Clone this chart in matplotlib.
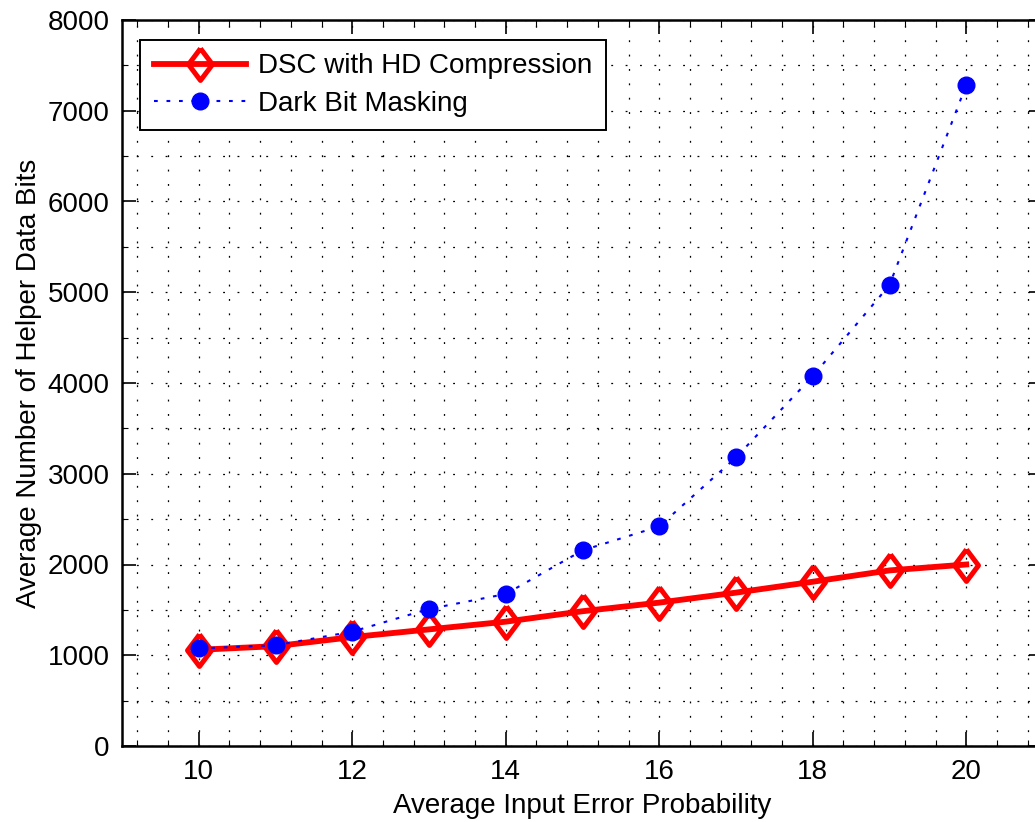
import numpy as np
import matplotlib
matplotlib.use("Agg")
import matplotlib.pyplot as plt
from matplotlib.ticker import MultipleLocator

plt.rcParams['font.family'] = ['Liberation Sans', 'DejaVu Sans']

# data
error_prob = [10, 11, 12, 13, 14, 15, 16, 17, 18, 19, 20]
dsc_hd = [1060, 1100, 1200, 1285, 1370, 1485, 1580, 1690, 1810, 1935, 2000]
dark_bit = [1075, 1110, 1260, 1510, 1675, 2155, 2420, 3180, 4075, 5080, 7285]

legend_labels = ['DSC with HD Compression', 'Dark Bit Masking']

fig = plt.figure(figsize=(10.35, 8.22), dpi=100)
# axes runs past the right edge of the picture, as in the reference
ax = fig.add_axes([122 / 1035, 76 / 822, 921 / 1035, 726 / 822])

# tall diamond marker
diamond = [(0, 1), (0.75, 0), (0, -1), (-0.75, 0), (0, 1)]

ax.plot(error_prob, dsc_hd, color='red', lw=4.2, marker=diamond, ms=23,
        mfc='none', mec='red', mew=3.6, label=legend_labels[0], zorder=3)
ax.plot(error_prob, dark_bit, color='blue', lw=1.5, ls=(0, (1.8, 4.2)),
        marker='o', ms=12, mfc='blue', mec='blue', label=legend_labels[1], zorder=4)

ax.set_xlim(9, 21)
ax.set_ylim(0, 8000)
ax.xaxis.set_major_locator(MultipleLocator(2))
ax.xaxis.set_minor_locator(MultipleLocator(0.4))
ax.yaxis.set_major_locator(MultipleLocator(1000))
ax.yaxis.set_minor_locator(MultipleLocator(500))

ax.grid(True, which='both', color='black', ls=(0, (1.5, 10)), lw=0.9)
ax.set_axisbelow(True)

ax.tick_params(which='both', direction='in', top=True, right=True, labelsize=20)
ax.tick_params(which='major', length=10, width=1.2, pad=9)
ax.tick_params(which='minor', length=4, width=0.8)
for s in ax.spines.values():
    s.set_linewidth(1.8)

ax.set_xlabel('Average Input Error Probability', fontsize=20, labelpad=6)
ax.set_ylabel('Average Number of Helper Data Bits', fontsize=20, labelpad=4)

leg = ax.legend(loc='upper left', bbox_to_anchor=(0.0195, 0.973), fontsize=20,
                fancybox=False, framealpha=1, edgecolor='black',
                handlelength=3.3, handletextpad=0.45, borderpad=0.5,
                labelspacing=0.4, borderaxespad=0)
leg.get_frame().set_linewidth(1.4)

fig.savefig('out.png', dpi=100)
